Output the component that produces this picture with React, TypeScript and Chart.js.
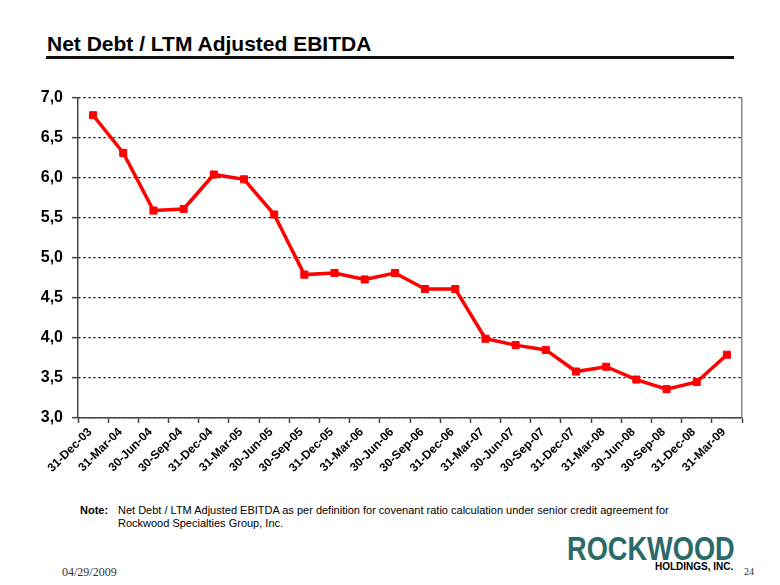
import React, { useEffect, useRef } from "react";
import { Chart, registerables } from "chart.js";

Chart.register(...registerables);

const categories = [
  "31-Dec-03", "31-Mar-04", "30-Jun-04", "30-Sep-04", "31-Dec-04", "31-Mar-05",
  "30-Jun-05", "30-Sep-05", "31-Dec-05", "31-Mar-06", "30-Jun-06", "30-Sep-06",
  "31-Dec-06", "31-Mar-07", "30-Jun-07", "30-Sep-07", "31-Dec-07", "31-Mar-08",
  "30-Jun-08", "30-Sep-08", "31-Dec-08", "31-Mar-09",
];

const netDebtToEbitda = [
  6.78, 6.31, 5.59, 5.61, 6.04, 5.98,
  5.54, 4.79, 4.81, 4.73, 4.81, 4.61,
  4.61, 3.99, 3.91, 3.85, 3.58, 3.64,
  3.48, 3.36, 3.45, 3.79,
];

const yMin = 3;
const yMax = 7;
const yStep = 0.5;

const FONT = "'Liberation Sans', Arial, sans-serif";
const SERIF = "'Liberation Serif', 'Times New Roman', serif";

export default function App() {
  const canvasRef = useRef<HTMLCanvasElement | null>(null);

  useEffect(() => {
    if (!canvasRef.current) return;
    const chart = new Chart(canvasRef.current, {
      type: "line",
      data: {
        labels: categories,
        datasets: [
          {
            data: netDebtToEbitda,
            borderColor: "#FF0000",
            backgroundColor: "#FF0000",
            borderWidth: 3.5,
            pointStyle: "rect",
            pointRadius: 5,
            pointBorderWidth: 1,
            pointBackgroundColor: "#FF0000",
            pointBorderColor: "#FF0000",
            tension: 0,
            yAxisID: "y",
          },
        ],
      },
      options: {
        responsive: false,
        animation: false,
        layout: { padding: 0 },
        plugins: {
          legend: { display: false },
          tooltip: { enabled: false },
          title: { display: false },
        },
        scales: {
          x: {
            offset: true,
            grid: {
              offset: true,
              drawOnChartArea: false,
              drawTicks: true,
              tickLength: 5,
              tickColor: "#444",
              tickWidth: 1.5,
            },
            border: { color: "#444", width: 1.5 },
            ticks: {
              autoSkip: false,
              minRotation: 45,
              maxRotation: 45,
              color: "#000",
              padding: 2,
              labelOffset: -3,
              font: { family: FONT, size: 12, weight: "bold" },
            },
            afterFit: (scale: any) => {
              scale.height = 70;
            },
          },
          y: {
            position: "left",
            min: yMin,
            max: yMax,
            ticks: {
              stepSize: yStep,
              color: "#000",
              padding: 9,
              font: { family: FONT, size: 16, weight: "bold" },
              callback: (v: any) => Number(v).toFixed(1).replace(".", ","),
            },
            grid: {
              color: "#000",
              lineWidth: 1.3,
              tickLength: 6,
              tickColor: "#444",
              tickBorderDash: [],
              tickWidth: 1.5,
            },
            border: { color: "#444", width: 1.5, dash: [2, 3] },
            afterFit: (scale: any) => {
              scale.width = 78;
            },
          },
          y2: {
            position: "right",
            min: yMin,
            max: yMax,
            ticks: { display: false },
            grid: { drawOnChartArea: false, drawTicks: false },
            border: { color: "#888", width: 1.5 },
            afterFit: (scale: any) => {
              scale.width = 38;
            },
          },
        },
      },
    });
    return () => chart.destroy();
  }, []);

  return (
    <div
      style={{
        position: "fixed",
        left: 0,
        top: 0,
        width: 780,
        height: 585,
        background: "#fff",
        overflow: "hidden",
      }}
    >
      <div
        style={{
          position: "absolute",
          left: 47,
          top: 33,
          fontFamily: FONT,
          fontWeight: "bold",
          fontSize: 21,
          lineHeight: "21px",
          color: "#000",
          whiteSpace: "nowrap",
        }}
      >
        Net Debt / LTM Adjusted EBITDA
      </div>
      <div
        style={{
          position: "absolute",
          left: 46,
          top: 56,
          width: 688,
          height: 3,
          background: "#111",
        }}
      />
      <canvas
        ref={canvasRef}
        width={780}
        height={409}
        style={{ position: "absolute", left: 0, top: 79, width: 780, height: 409 }}
      />
      <div
        style={{
          position: "absolute",
          left: 80,
          top: 504,
          fontFamily: FONT,
          fontSize: 11,
          color: "#000",
          lineHeight: "13px",
        }}
      >
        <span style={{ position: "absolute", left: 0, top: 0, fontWeight: "bold" }}>Note:</span>
        <div style={{ position: "absolute", left: 38, top: 0, whiteSpace: "nowrap" }}>
          Net Debt / LTM Adjusted EBITDA as per definition for covenant ratio calculation under senior credit agreement for
          <br />
          Rockwood Specialties Group, Inc.
        </div>
      </div>
      <div
        style={{
          position: "absolute",
          left: 62,
          top: 565,
          fontFamily: SERIF,
          fontSize: 12,
          color: "#333",
        }}
      >
        04/29/2009
      </div>
      <div
        style={{
          position: "absolute",
          left: 744,
          top: 566,
          fontFamily: SERIF,
          fontSize: 10,
          color: "#333",
        }}
      >
        24
      </div>
      <div
        style={{
          position: "absolute",
          left: 567,
          top: 531,
          fontFamily: FONT,
          fontWeight: "bold",
          fontSize: 34,
          lineHeight: "34px",
          color: "#2a6a68",
          transform: "scaleX(0.8)",
          transformOrigin: "left top",
          whiteSpace: "nowrap",
        }}
      >
        ROCKWOOD
      </div>
      <div
        style={{
          position: "absolute",
          left: 655,
          top: 561,
          fontFamily: FONT,
          fontWeight: "bold",
          fontSize: 10,
          color: "#000",
          whiteSpace: "nowrap",
        }}
      >
        HOLDINGS, INC.
      </div>
    </div>
  );
}
